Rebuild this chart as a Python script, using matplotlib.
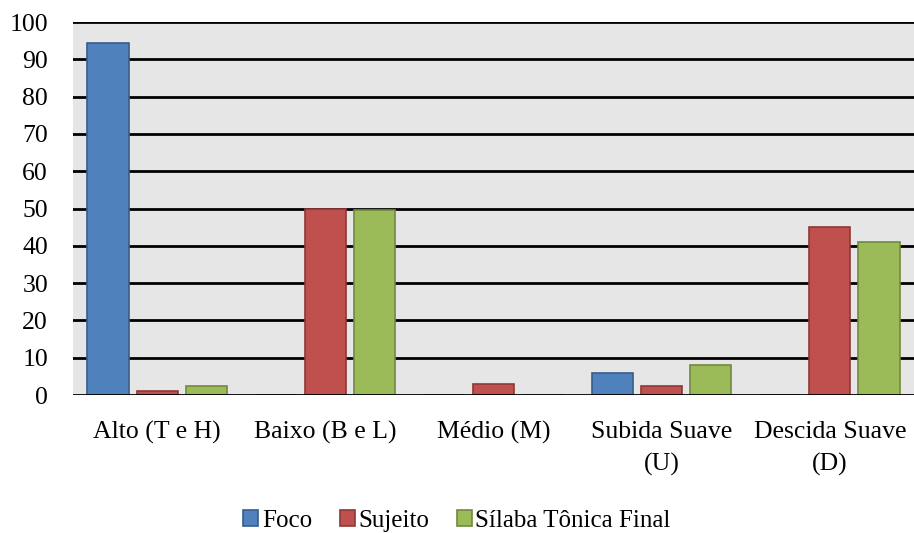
import numpy as np
import matplotlib
matplotlib.use("Agg")
import matplotlib.pyplot as plt

categorias = ["Alto (T e H)", "Baixo (B e L)", "Médio (M)", "Subida Suave\n(U)", "Descida Suave\n(D)"]
foco = [94.5, 0, 0, 6, 0]
sujeito = [1, 50, 3, 2.5, 45]
silaba = [2.5, 49.5, 0, 8, 41]

series = [
    ("Foco", foco, "#4F81BD", "#385D8A"),
    ("Sujeito", sujeito, "#C0504D", "#8C3836"),
    ("Sílaba Tônica Final", silaba, "#9BBB59", "#71893F"),
]

plt.rcParams['font.family'] = ['Liberation Serif', 'DejaVu Serif']

fig = plt.figure(figsize=(9.14, 5.33), dpi=100)
ax = fig.add_axes([73/914, 1 - 395/533, 841/914, 373/533])
ax.set_facecolor("#E6E6E6")

x = np.arange(len(categorias))
largura = 0.244
passo = 0.292
for i, (nome, vals, cor, borda) in enumerate(series):
    ax.bar(x + (i - 1) * passo, vals, largura, color=cor, edgecolor=borda,
           linewidth=1.2, label=nome, zorder=3)

ax.set_ylim(0, 100)
ax.set_xlim(-0.5, len(categorias) - 0.5)
ax.set_yticks(range(0, 101, 10))
for y in range(0, 101, 10):
    # the baseline goes over the bars so empty bars leave no trace
    ax.axhline(y, color="black", linewidth=2, zorder=4 if y == 0 else 2)
for s in ax.spines.values():
    s.set_visible(False)

ax.tick_params(axis="y", length=0, labelsize=18.5, pad=18)
ax.tick_params(axis="x", length=0, labelsize=18.5, pad=19)
ax.set_xticks(x)
ax.set_xticklabels(categorias, linespacing=1.55)

leg = fig.legend(loc="center", bbox_to_anchor=(0.5, 1 - 521/533), ncol=3,
                 frameon=False, fontsize=18, handlelength=0.6, handleheight=0.6,
                 handletextpad=0.15, columnspacing=1.1)

fig.savefig("out.png", dpi=100)
